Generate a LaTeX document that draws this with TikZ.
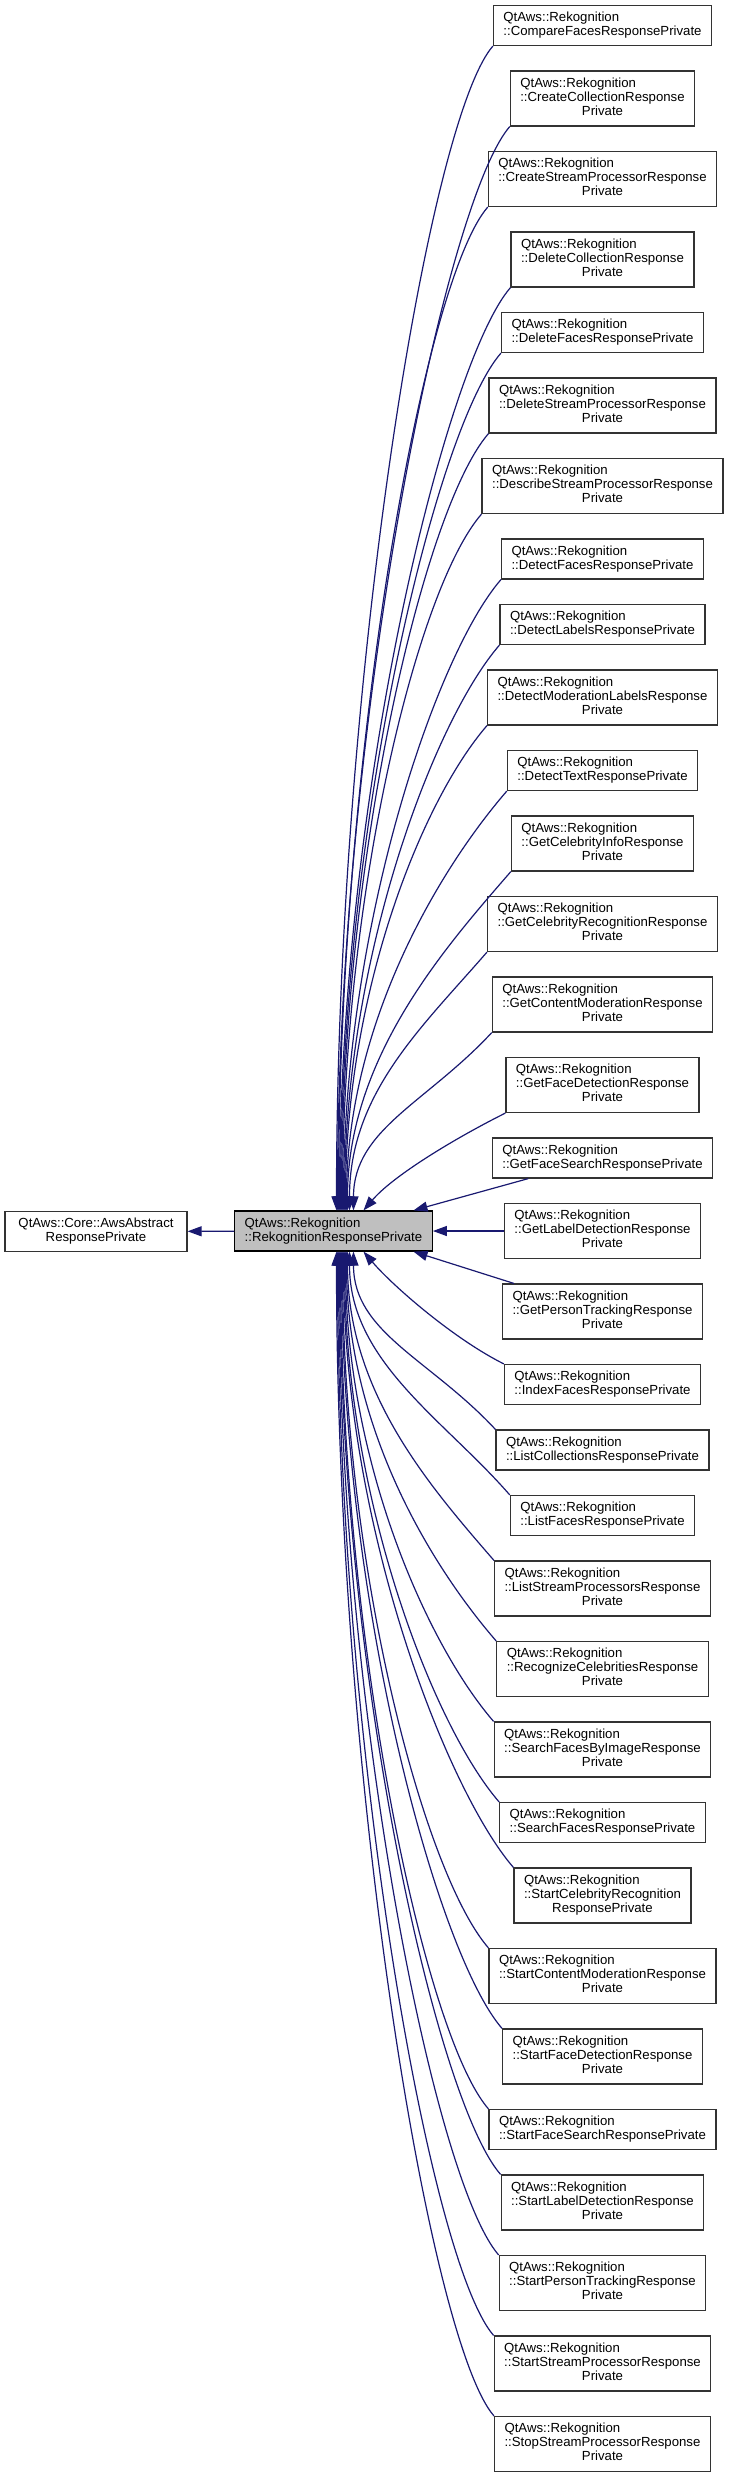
\documentclass[tikz,border=0pt]{standalone}
\usepackage{fontspec}
\setmainfont{Liberation Sans}
\usepackage{xcolor}
\usetikzlibrary{arrows.meta,calc}
\definecolor{edgeblue}{HTML}{191970}
\newcommand{\threeline}[3]{\begin{tabular}{@{}l@{}}#1\\#2\\\multicolumn{1}{@{}c@{}}{#3}\end{tabular}}

\begin{document}
\begin{tikzpicture}[
  x=0.75pt,y=-0.75pt,
  cls/.style={draw=black!80,line width=0.9pt,fill=white,align=left,inner xsep=7.5pt,minimum height=30pt,font=\fontsize{9.9pt}{10.5pt}\selectfont},
  cls3/.style={cls,minimum height=41.25pt},
  inh/.style={draw=edgeblue,line width=0.9pt,arrows={Triangle[length=10.5pt,width=7.5pt]-}}
]
\useasboundingbox (0,0) rectangle (729,2475);

\node[cls,align=center,minimum width=136.5pt] (aarp) at (96,1231.5) {QtAws::Core::AwsAbstract\\ResponsePrivate};
\node[cls,fill=black!25,draw=black] (rrp) at (333.5,1231) {QtAws::Rekognition\\::RekognitionResponsePrivate};

\node[cls] (cmp) at (602.5,25.5) {QtAws::Rekognition\\::CompareFacesResponsePrivate};
\node[cls3] (crc) at (602.5,98.5) {\threeline{QtAws::Rekognition}{::CreateCollectionResponse}{Private}};
\node[cls3] (crsp) at (602.5,179) {\threeline{QtAws::Rekognition}{::CreateStreamProcessorResponse}{Private}};
\node[cls3] (dlc) at (602.5,259.5) {\threeline{QtAws::Rekognition}{::DeleteCollectionResponse}{Private}};
\node[cls] (dlf) at (602.5,332.5) {QtAws::Rekognition\\::DeleteFacesResponsePrivate};
\node[cls3] (dlsp) at (602.5,405.5) {\threeline{QtAws::Rekognition}{::DeleteStreamProcessorResponse}{Private}};
\node[cls3] (dssp) at (602.5,486) {\threeline{QtAws::Rekognition}{::DescribeStreamProcessorResponse}{Private}};
\node[cls] (dtf) at (602.5,559) {QtAws::Rekognition\\::DetectFacesResponsePrivate};
\node[cls] (dtl) at (602.5,624.5) {QtAws::Rekognition\\::DetectLabelsResponsePrivate};
\node[cls3] (dtml) at (602.5,697.5) {\threeline{QtAws::Rekognition}{::DetectModerationLabelsResponse}{Private}};
\node[cls] (dtt) at (602.5,770.5) {QtAws::Rekognition\\::DetectTextResponsePrivate};
\node[cls3] (gci) at (602.5,843.5) {\threeline{QtAws::Rekognition}{::GetCelebrityInfoResponse}{Private}};
\node[cls3] (gcr) at (602.5,924) {\threeline{QtAws::Rekognition}{::GetCelebrityRecognitionResponse}{Private}};
\node[cls3] (gcm) at (602.5,1004.5) {\threeline{QtAws::Rekognition}{::GetContentModerationResponse}{Private}};
\node[cls3] (gfd) at (602.5,1085) {\threeline{QtAws::Rekognition}{::GetFaceDetectionResponse}{Private}};
\node[cls] (gfs) at (602.5,1158) {QtAws::Rekognition\\::GetFaceSearchResponsePrivate};
\node[cls3] (gld) at (602.5,1231) {\threeline{QtAws::Rekognition}{::GetLabelDetectionResponse}{Private}};
\node[cls3] (gpt) at (602.5,1311.5) {\threeline{QtAws::Rekognition}{::GetPersonTrackingResponse}{Private}};
\node[cls] (idx) at (602.5,1384.5) {QtAws::Rekognition\\::IndexFacesResponsePrivate};
\node[cls] (lsc) at (602.5,1450) {QtAws::Rekognition\\::ListCollectionsResponsePrivate};
\node[cls] (lsf) at (602.5,1515.5) {QtAws::Rekognition\\::ListFacesResponsePrivate};
\node[cls3] (lssp) at (602.5,1588.5) {\threeline{QtAws::Rekognition}{::ListStreamProcessorsResponse}{Private}};
\node[cls3] (rcc) at (602.5,1669) {\threeline{QtAws::Rekognition}{::RecognizeCelebritiesResponse}{Private}};
\node[cls3] (sfi) at (602.5,1749.5) {\threeline{QtAws::Rekognition}{::SearchFacesByImageResponse}{Private}};
\node[cls] (sfc) at (602.5,1822.5) {QtAws::Rekognition\\::SearchFacesResponsePrivate};
\node[cls3] (stcr) at (602.5,1895.5) {\threeline{QtAws::Rekognition}{::StartCelebrityRecognition}{ResponsePrivate}};
\node[cls3] (stcm) at (602.5,1976) {\threeline{QtAws::Rekognition}{::StartContentModerationResponse}{Private}};
\node[cls3] (stfd) at (602.5,2056.5) {\threeline{QtAws::Rekognition}{::StartFaceDetectionResponse}{Private}};
\node[cls] (stfs) at (602.5,2129.5) {QtAws::Rekognition\\::StartFaceSearchResponsePrivate};
\node[cls3] (stld) at (602.5,2202.5) {\threeline{QtAws::Rekognition}{::StartLabelDetectionResponse}{Private}};
\node[cls3] (stpt) at (602.5,2283) {\threeline{QtAws::Rekognition}{::StartPersonTrackingResponse}{Private}};
\node[cls3] (stsp) at (602.5,2363.5) {\threeline{QtAws::Rekognition}{::StartStreamProcessorResponse}{Private}};
\node[cls3] (spsp) at (602.5,2444) {\threeline{QtAws::Rekognition}{::StopStreamProcessorResponse}{Private}};

% base class
\draw[inh] (aarp) -- (rrp);

% derived classes above
\draw[inh] ($(rrp.north)+(3,0)$) .. controls +(0,-524) and +(-65,75) .. (cmp.south west);
\draw[inh] ($(rrp.north)+(4,0)$) .. controls +(0,-488) and +(-65,75) .. (crc.south west);
\draw[inh] ($(rrp.north)+(5,0)$) .. controls +(0,-452) and +(-65,75) .. (crsp.south west);
\draw[inh] ($(rrp.north)+(6,0)$) .. controls +(0,-416) and +(-65,75) .. (dlc.south west);
\draw[inh] ($(rrp.north)+(7,0)$) .. controls +(0,-386) and +(-65,75) .. (dlf.south west);
\draw[inh] ($(rrp.north)+(8,0)$) .. controls +(0,-350) and +(-65,75) .. (dlsp.south west);
\draw[inh] ($(rrp.north)+(9,0)$) .. controls +(0,-314) and +(-65,75) .. (dssp.south west);
\draw[inh] ($(rrp.north)+(10,0)$) .. controls +(0,-284) and +(-65,75) .. (dtf.south west);
\draw[inh] ($(rrp.north)+(11,0)$) .. controls +(0,-255) and +(-65,75) .. (dtl.south west);
\draw[inh] ($(rrp.north)+(12,0)$) .. controls +(0,-219) and +(-65,75) .. (dtml.south west);
\draw[inh] ($(rrp.north)+(13,0)$) .. controls +(0,-189) and +(-65,75) .. (dtt.south west);
\draw[inh] ($(rrp.north)+(14,0)$) .. controls +(0,-153) and +(-65,75) .. (gci.south west);
\draw[inh] ($(rrp.north)+(16,0)$) .. controls +(0,-117) and +(-65,75) .. (gcr.south west);
\draw[inh] ($(rrp.north)+(20,0)$) .. controls +(0,-81) and +(-65,70) .. (gcm.south west);
\draw[inh] ($(rrp.north)+(30,0)$) .. controls +(30,-35) and +(-50,25) .. (gfd.south west);
\draw[inh] ($(rrp.north)+(80,0)$) -- (gfs);

\draw[inh] (rrp) -- (gld);

% derived classes below
\draw[inh] ($(rrp.south)+(80,0)$) -- (gpt);
\draw[inh] ($(rrp.south)+(30,0)$) .. controls +(30,35) and +(-50,-25) .. (idx.north west);
\draw[inh] ($(rrp.south)+(20,0)$) .. controls +(0,81) and +(-65,-70) .. (lsc.north west);
\draw[inh] ($(rrp.south)+(16,0)$) .. controls +(0,110) and +(-65,-75) .. (lsf.north west);
\draw[inh] ($(rrp.south)+(14,0)$) .. controls +(0,140) and +(-65,-75) .. (lssp.north west);
\draw[inh] ($(rrp.south)+(13,0)$) .. controls +(0,176) and +(-65,-75) .. (rcc.north west);
\draw[inh] ($(rrp.south)+(12,0)$) .. controls +(0,212) and +(-65,-75) .. (sfi.north west);
\draw[inh] ($(rrp.south)+(11,0)$) .. controls +(0,248) and +(-65,-75) .. (sfc.north west);
\draw[inh] ($(rrp.south)+(10,0)$) .. controls +(0,278) and +(-65,-75) .. (stcr.north west);
\draw[inh] ($(rrp.south)+(9,0)$) .. controls +(0,314) and +(-65,-75) .. (stcm.north west);
\draw[inh] ($(rrp.south)+(8,0)$) .. controls +(0,350) and +(-65,-75) .. (stfd.north west);
\draw[inh] ($(rrp.south)+(7,0)$) .. controls +(0,386) and +(-65,-75) .. (stfs.north west);
\draw[inh] ($(rrp.south)+(6,0)$) .. controls +(0,416) and +(-65,-75) .. (stld.north west);
\draw[inh] ($(rrp.south)+(5,0)$) .. controls +(0,452) and +(-65,-75) .. (stpt.north west);
\draw[inh] ($(rrp.south)+(4,0)$) .. controls +(0,488) and +(-65,-75) .. (stsp.north west);
\draw[inh] ($(rrp.south)+(3,0)$) .. controls +(0,524) and +(-65,-75) .. (spsp.north west);
\end{tikzpicture}
\end{document}
